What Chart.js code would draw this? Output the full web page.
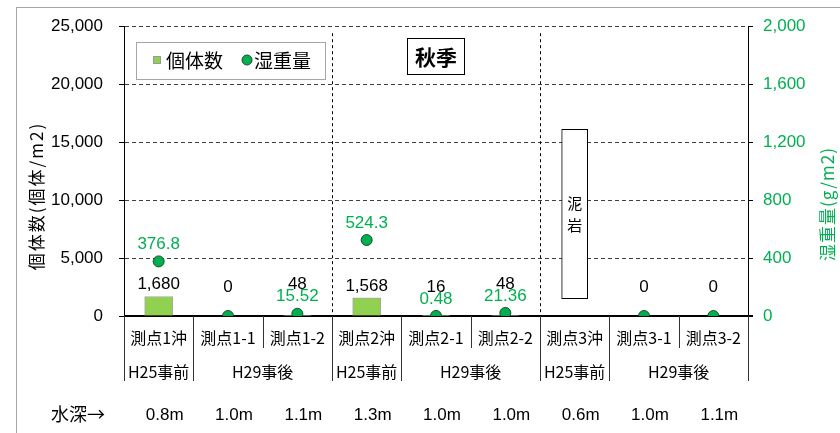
<!DOCTYPE html>
<html lang="ja">
<head>
<meta charset="utf-8">
<title>秋季 個体数・湿重量</title>
<script src="https://cdn.jsdelivr.net/npm/chart.js@4.4.1/dist/chart.umd.min.js"></script>
<style>
  html, body { margin: 0; padding: 0; background: #fff; }
  #wrap { position: relative; width: 840px; height: 433px; }
</style>
</head>
<body>
<div id="wrap"><canvas id="chart"></canvas></div>
<script>
/* DATA */
const stations = ['測点1沖', '測点1-1', '測点1-2', '測点2沖', '測点2-1', '測点2-2', '測点3沖', '測点3-1', '測点3-2'];
const periods  = ['H25事前', 'H29事後', 'H29事後', 'H25事前', 'H29事後', 'H29事後', 'H25事前', 'H29事後', 'H29事後'];
const depths   = ['0.8m', '1.0m', '1.1m', '1.3m', '1.0m', '1.0m', '0.6m', '1.0m', '1.1m'];

const counts      = [1680, 0, 48, 1568, 16, 48, null, 0, 0];          // 個体数 (個体/m2)
const wetWeight   = [376.8, 0, 15.52, 524.3, 0.48, 21.36, null, 0, 0]; // 湿重量 (g/m2)
const wetLabels   = ['376.8', '', '15.52', '524.3', '0.48', '21.36', '', '', ''];
const mudstone    = [null, null, null, null, null, null, [1500, 16100], null, null];

const countAxis = { min: 0, max: 25000, step: 5000 };
const wetAxis   = { min: 0, max: 2000, step: 400 };

/* STYLES */
const GREEN_TEXT = '#00B050';
const BAR_GREEN  = '#92D050';
const FONT = '"Liberation Sans", "Noto Sans CJK JP", sans-serif';
const JP   = '"Noto Sans CJK JP", sans-serif';

/* DECORATION PLUGIN: axis rows, labels, legend, title */
const decor = {
  id: 'decor',
  beforeDraw(chart) {
    const { ctx } = chart;
    ctx.save();
    ctx.fillStyle = '#fff';
    ctx.fillRect(0, 0, chart.width, chart.height);
    ctx.strokeStyle = '#a6a6a6';
    ctx.lineWidth = 1;
    ctx.strokeRect(16.5, 7.5, chart.width, chart.height);
    ctx.restore();
  },
  beforeDatasetsDraw(chart) {
    const { ctx, chartArea: area } = chart;
    const x = chart.scales.x, y = chart.scales.y;
    const half = (x.getPixelForValue(1) - x.getPixelForValue(0)) / 2;
    const y0 = y.getPixelForValue(0);

    ctx.save();
    /* dashed lines between station groups */
    ctx.strokeStyle = '#000';
    ctx.lineWidth = 1;
    ctx.setLineDash([3, 3]);
    stations.forEach((s, i) => {
      if (i === 0 || s.charAt(2) === stations[i - 1].charAt(2)) return;
      const bx = Math.round(x.getPixelForValue(i) - half) + 0.5;
      ctx.beginPath();
      ctx.moveTo(bx, area.top + 7);
      ctx.lineTo(bx, y0);
      ctx.stroke();
    });
    ctx.setLineDash([]);

    /* zero line */
    ctx.lineWidth = 2;
    ctx.beginPath();
    ctx.moveTo(area.left, y0);
    ctx.lineTo(area.right + 5, y0);
    ctx.stroke();
    ctx.restore();
  },
  afterDatasetsDraw(chart) {
    const { ctx } = chart;
    const x = chart.scales.x, y = chart.scales.y;
    const half = (x.getPixelForValue(1) - x.getPixelForValue(0)) / 2;
    const y0 = y.getPixelForValue(0);
    const n = stations.length;

    /* mudstone text */
    const mud = chart.getDatasetMeta(2).data[6];
    if (mud) {
      const mid = (mud.y + mud.base) / 2;
      ctx.save();
      ctx.textAlign = 'center';
      ctx.textBaseline = 'middle';
      ctx.fillStyle = '#000';
      ctx.font = '15px ' + JP;
      ctx.fillText('泥', mud.x, mid - 11);
      ctx.fillText('岩', mud.x, mid + 11);
      ctx.restore();
    }

    ctx.save();
    /* separators under the axis */
    ctx.strokeStyle = '#333';
    ctx.lineWidth = 1;
    for (let i = 0; i <= n; i++) {
      const bx = Math.round(i < n ? x.getPixelForValue(i) - half : x.getPixelForValue(n - 1) + half) + 0.5;
      const long = i === 0 || i === n || periods[i] !== periods[i - 1];
      ctx.beginPath();
      ctx.moveTo(bx, y0);
      ctx.lineTo(bx, y0 + (long ? 65 : 32));
      ctx.stroke();
    }

    /* station, period and depth rows */
    ctx.textAlign = 'center';
    ctx.textBaseline = 'middle';
    ctx.fillStyle = '#000';
    ctx.font = '16px ' + JP;
    stations.forEach((s, i) => ctx.fillText(s, x.getPixelForValue(i), y0 + 22));

    let start = 0;
    for (let i = 1; i <= n; i++) {
      if (i === n || periods[i] !== periods[start]) {
        const cx = (x.getPixelForValue(start) + x.getPixelForValue(i - 1)) / 2;
        ctx.fillText(periods[start], cx, y0 + 56);
        start = i;
      }
    }

    ctx.font = '17px ' + FONT;
    depths.forEach((d, i) => ctx.fillText(d, x.getPixelForValue(i) + 6, 415));
    ctx.font = '18px ' + JP;
    ctx.fillText('水深→', 78, 414);

    /* value labels */
    const barMeta = chart.getDatasetMeta(1);
    const ptMeta = chart.getDatasetMeta(0);
    ctx.font = '17px ' + FONT;
    counts.forEach((v, i) => {
      if (v === null) return;
      const barTop = barMeta.data[i].y;
      const pt = wetWeight[i] !== null ? ptMeta.data[i].y : y0;
      const ly = pt < barTop - 20 ? barTop - 12 : Math.min(barTop, pt) - 29;
      ctx.fillStyle = '#000';
      ctx.fillText(v.toLocaleString('en-US'), x.getPixelForValue(i), ly);
    });
    ctx.fillStyle = GREEN_TEXT;
    wetLabels.forEach((t, i) => {
      if (!t) return;
      ctx.fillText(t, x.getPixelForValue(i), ptMeta.data[i].y - 17);
    });

    /* legend */
    ctx.strokeStyle = '#a6a6a6';
    ctx.fillStyle = '#fff';
    ctx.fillRect(136.5, 42.5, 189, 37);
    ctx.strokeRect(136.5, 42.5, 189, 37);
    ctx.fillStyle = BAR_GREEN;
    ctx.fillRect(153.5, 56.5, 7, 7);
    ctx.strokeStyle = '#999';
    ctx.strokeRect(153.5, 56.5, 7, 7);
    ctx.beginPath();
    ctx.arc(247, 60, 5, 0, Math.PI * 2);
    ctx.fillStyle = GREEN_TEXT;
    ctx.fill();
    ctx.strokeStyle = '#1d4d2a';
    ctx.stroke();
    ctx.fillStyle = '#000';
    ctx.textAlign = 'left';
    ctx.font = '19px ' + JP;
    ctx.fillText('個体数', 166, 61);
    ctx.fillText('湿重量', 254, 61);

    /* season title */
    ctx.fillStyle = '#fff';
    ctx.fillRect(407.5, 38.5, 57, 36);
    ctx.strokeStyle = '#000';
    ctx.strokeRect(407.5, 38.5, 57, 36);
    ctx.fillStyle = '#000';
    ctx.textAlign = 'center';
    ctx.font = 'bold 21px ' + JP;
    ctx.fillText('秋季', 436, 57);

    /* axis titles */
    ctx.save();
    ctx.translate(37, 196);
    ctx.rotate(-Math.PI / 2);
    ctx.font = '17px ' + JP;
    ctx.letterSpacing = '2px';
    ctx.fillText('個体数(個体/m2)', 0, 0);
    ctx.restore();

    ctx.save();
    ctx.translate(828, 204);
    ctx.rotate(-Math.PI / 2);
    ctx.fillStyle = GREEN_TEXT;
    ctx.font = '17px ' + JP;
    ctx.letterSpacing = '1px';
    ctx.fillText('湿重量(g/m2)', 0, 0);
    ctx.restore();

    ctx.restore();
  }
};

/* CHART */
const ctx = document.getElementById('chart').getContext('2d');
new Chart(ctx, {
  type: 'bar',
  data: {
    labels: stations,
    datasets: [
      {
        type: 'line',
        label: '湿重量',
        data: wetWeight,
        yAxisID: 'y2',
        showLine: false,
        pointRadius: 5.5,
        pointHoverRadius: 5.5,
        pointBackgroundColor: GREEN_TEXT,
        pointBorderColor: '#1d4d2a',
        pointBorderWidth: 1,
        order: 0,
      },
      {
        label: '個体数',
        data: counts,
        yAxisID: 'y',
        backgroundColor: BAR_GREEN,
        borderColor: '#a6a6a6',
        borderWidth: 1,
        barThickness: 28,
        grouped: false,
        order: 1,
      },
      {
        label: '泥岩',
        data: mudstone,
        yAxisID: 'y',
        backgroundColor: '#fff',
        borderColor: '#000',
        borderWidth: 1,
        borderSkipped: false,
        barThickness: 26,
        grouped: false,
        order: 2,
      },
    ],
  },
  options: {
    responsive: true,
    maintainAspectRatio: false,
    animation: false,
    layout: { padding: { top: 24, bottom: 117, left: 0, right: 0 } },
    plugins: {
      legend: { display: false },
      tooltip: { enabled: false },
    },
    scales: {
      x: { display: false, offset: true },
      y: {
        position: 'left',
        min: countAxis.min,
        max: countAxis.max,
        ticks: {
          stepSize: countAxis.step,
          color: '#000',
          padding: 16,
          font: { family: FONT, size: 17 },
          callback: v => v.toLocaleString('en-US'),
        },
        grid: { color: '#404040', lineWidth: 1, tickColor: '#000', tickLength: 5 },
        border: { color: '#000', width: 1, dash: [4, 3] },
        afterFit: s => { s.width = 124; },
      },
      y2: {
        position: 'right',
        min: wetAxis.min,
        max: wetAxis.max,
        ticks: {
          stepSize: wetAxis.step,
          color: GREEN_TEXT,
          padding: 10,
          font: { family: FONT, size: 17 },
          callback: v => v.toLocaleString('en-US'),
        },
        grid: { drawOnChartArea: false, tickColor: '#000', tickLength: 5 },
        border: { color: '#000', width: 1 },
        afterFit: s => { s.width = 92; },
      },
    },
  },
  plugins: [decor],
});
</script>
</body>
</html>
